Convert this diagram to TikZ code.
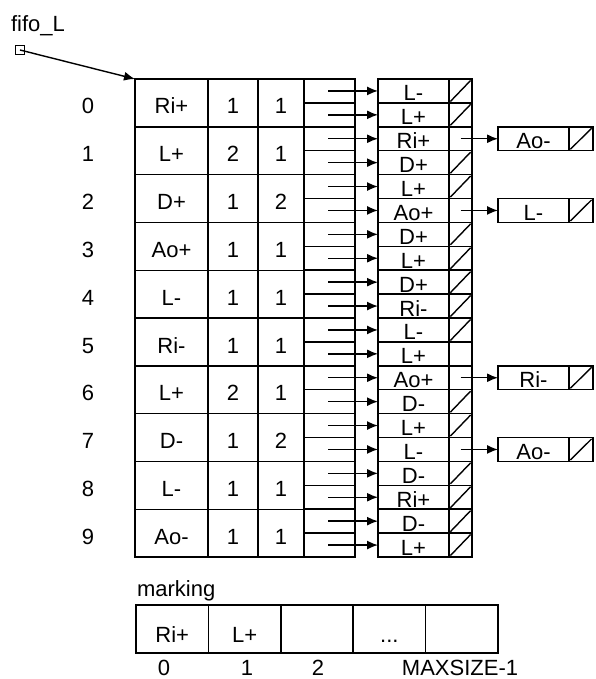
\documentclass[tikz,border=0pt]{standalone}
\usepackage{fontspec}
\setmainfont{Liberation Sans}
\usetikzlibrary{arrows.meta}
\newcommand\mkdots{...}
\begin{document}
\begin{tikzpicture}[x=1pt,y=-1pt,
  txt/.style={font=\fontsize{22}{26}\selectfont, inner sep=0pt, outer sep=0pt},
  cellbox/.style={draw, line width=1.5pt, inner sep=0pt, outer sep=0pt},
  ptr/.style={line width=1.4pt, -{Latex[length=11pt,width=9pt]}},
  slash/.style={line width=1.4pt, shorten >=2pt, shorten <=2pt}]
\useasboundingbox (0,0) rectangle (596,679);

% fifo_L pointer
\node[txt, anchor=base west] (fifo) at (11,32) {fifo\_L};
\node[cellbox, minimum size=9pt] (fsq) at (20,50) {};
\coordinate (corner) at (135,79);
\draw[ptr] (fsq.center) -- (corner);

% main table
\foreach \r/\a/\b/\c in {0/Ri+/1/1, 1/L+/2/1, 2/D+/1/2, 3/Ao+/1/1, 4/L-/1/1,
                         5/Ri-/1/1, 6/L+/2/1, 7/D-/1/2, 8/L-/1/1, 9/Ao-/1/1} {
  \pgfmathsetmacro\yc{103+47.8*\r}
  \node[cellbox, minimum width=73pt, minimum height=47.8pt] (a\r) at (171.5,\yc) {};
  \node[cellbox, minimum width=50pt, minimum height=47.8pt] (b\r) at (233,\yc) {};
  \node[cellbox, minimum width=46pt, minimum height=47.8pt] (c\r) at (281,\yc) {};
  \node[txt, anchor=base] (i\r) at (88,{\yc+11}) {\r};
  \node[txt, anchor=base] (ta\r) at (171.5,{\yc+11}) {\a};
  \node[txt, anchor=base] (tb\r) at (233,{\yc+11}) {\b};
  \node[txt, anchor=base] (tc\r) at (281,{\yc+11}) {\c};
}

% sub-cells and linked list column
\foreach \k/\t/\s in {0/L-/1, 1/L+/1, 2/Ri+/0, 3/D+/1, 4/L+/1, 5/Ao+/0, 6/D+/1,
                      7/L+/1, 8/D+/1, 9/Ri-/1, 10/L-/1, 11/L+/0, 12/Ao+/0, 13/D-/1,
                      14/L+/1, 15/L-/0, 16/D-/1, 17/Ri+/1, 18/D-/1, 19/L+/1} {
  \pgfmathsetmacro\yk{90.95+23.9*\k}
  \node[cellbox, minimum width=51pt, minimum height=23.9pt] (s\k) at (329.5,\yk) {};
  \coordinate (src\k) at (328,\yk);
  \node[cellbox, minimum width=71pt, minimum height=23.9pt] (l\k) at (413.5,\yk) {};
  \node[cellbox, minimum width=23pt, minimum height=23.9pt] (p\k) at (460.5,\yk) {};
  \node[txt, anchor=base] (lt\k) at (413.5,{\yk+10}) {\t};
  \draw[ptr] (src\k) -- (l\k.west);
  \ifnum\s=1 \draw[slash] (p\k.south west) -- (p\k.north east); \fi
}

% external boxes
\foreach \k/\t in {2/Ao-, 5/L-, 12/Ri-, 15/Ao-} {
  \pgfmathsetmacro\yk{90.95+23.9*\k}
  \node[cellbox, minimum width=71pt, minimum height=23.9pt] (e\k) at (533.5,\yk) {};
  \node[cellbox, minimum width=24pt, minimum height=23.9pt] (ep\k) at (581,\yk) {};
  \node[txt, anchor=base] (et\k) at (533.5,{\yk+10}) {\t};
  \draw[slash] (ep\k.south west) -- (ep\k.north east);
  \draw[ptr] (p\k.center) -- (e\k.west);
}

% marking array
\node[txt, anchor=base west] (mk) at (137,596) {marking};
\foreach \i/\x/\t in {0/172.2/Ri+, 1/244.6/L+, 2/317/{}, 3/389.4/\mkdots, 4/461.8/{}} {
  \node[cellbox, minimum width=72.4pt, minimum height=48pt] (m\i) at (\x,629) {};
  \node[txt, anchor=base] (mt\i) at (\x,642) {\t};
}
\node[txt, anchor=base] (mi0) at (164,675) {0};
\node[txt, anchor=base] (mi1) at (247,675) {1};
\node[txt, anchor=base] (mi2) at (318,675) {2};
\node[txt, anchor=base] (mi3) at (460,675) {MAXSIZE-1};
\end{tikzpicture}
\end{document}
